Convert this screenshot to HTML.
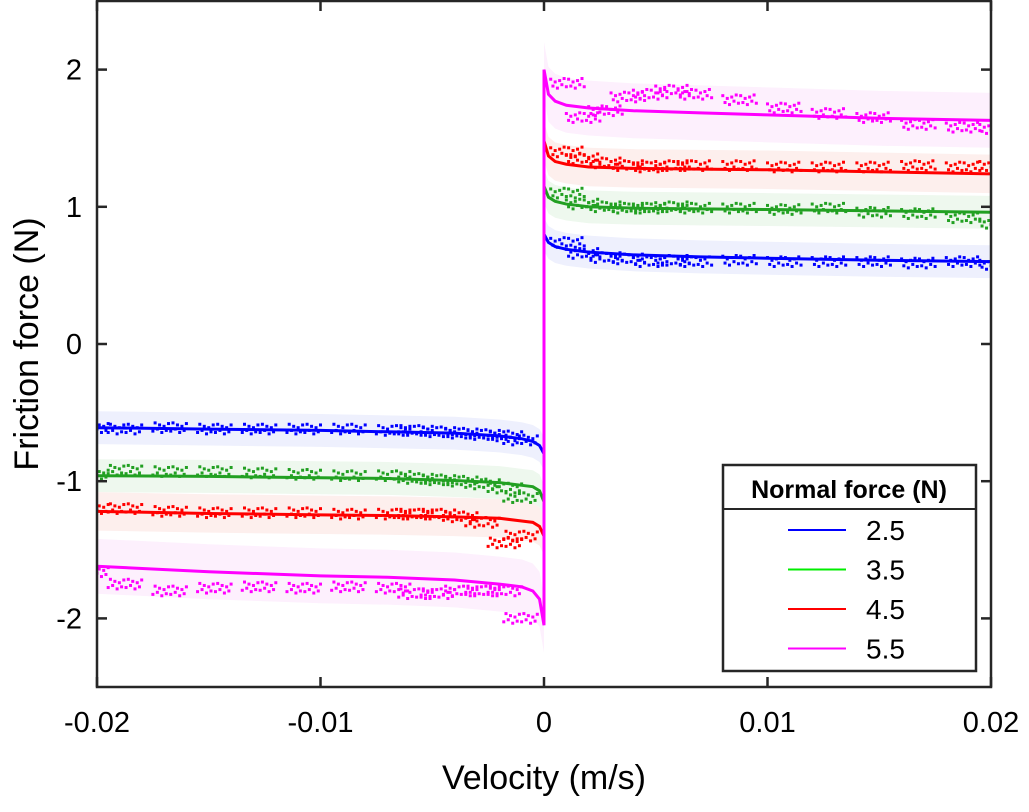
<!DOCTYPE html>
<html><head><meta charset="utf-8"><style>
body{margin:0;background:#fff;}
svg{display:block;font-family:"Liberation Sans",Arial,sans-serif;}
</style></head><body>
<svg id="chart" width="1029" height="812"></svg>
<script>
const xTicks=[-0.02,-0.01,0,0.01,0.02];
const xTickLabels=["-0.02","-0.01","0","0.01","0.02"];
const yTicks=[-2,-1,0,1,2];
const yTickLabels=["-2","-1","0","1","2"];
const seriesNames=["2.5","3.5","4.5","5.5"];
const curveV=[0,0.0002,0.0005,0.001,0.002,0.004,0.007,0.01,0.015,0.02];
const posBlue=[0.8,0.74,0.71,0.69,0.67,0.65,0.635,0.625,0.61,0.6];
const negBlue=[-0.8,-0.74,-0.71,-0.69,-0.67,-0.65,-0.64,-0.63,-0.62,-0.61];
const posGreen=[1.15,1.07,1.04,1.02,1.0,0.99,0.985,0.98,0.97,0.96];
const negGreen=[-1.15,-1.07,-1.04,-1.03,-1.01,-0.995,-0.98,-0.975,-0.965,-0.96];
const posRed=[1.48,1.37,1.33,1.31,1.29,1.28,1.275,1.27,1.255,1.24];
const negRed=[-1.4,-1.33,-1.3,-1.29,-1.27,-1.26,-1.25,-1.245,-1.235,-1.22];
const posMag=[2.0,1.82,1.77,1.74,1.72,1.7,1.685,1.67,1.645,1.63];
const negMag=[-2.05,-1.86,-1.8,-1.77,-1.75,-1.72,-1.7,-1.69,-1.66,-1.62];
const dotV=[0.0003,0.001,0.002,0.003,0.004,0.005,0.006,0.008,0.01,0.012,0.014,0.016,0.018,0.0195];
const dotBlue=[0.74,0.66,0.63,0.62,0.6,0.61,0.6,0.61,0.6,0.6,0.6,0.59,0.6,0.58];
const dotBlueN=[-0.7,-0.67,-0.66,-0.65,-0.64,-0.63,-0.63,-0.62,-0.62,-0.62,-0.62,-0.61,-0.62,-0.61];
const dotGreen=[1.1,1.02,1.0,0.99,0.99,1.0,0.99,0.99,0.98,0.99,0.96,0.95,0.92,0.88];
const dotGreenN=[-1.12,-1.05,-1.02,-1.0,-0.99,-0.98,-0.96,-0.96,-0.95,-0.94,-0.93,-0.93,-0.92,-0.95];
const dotRed=[1.4,1.35,1.32,1.3,1.29,1.3,1.3,1.3,1.29,1.29,1.29,1.3,1.29,1.3];
const dotRedN=[-1.4,-1.45,-1.3,-1.26,-1.24,-1.24,-1.24,-1.24,-1.23,-1.23,-1.23,-1.22,-1.2,-1.2];
const dotMag=[1.9,1.65,1.7,1.8,1.82,1.85,1.82,1.78,1.72,1.68,1.65,1.6,1.58,1.57];
const dotMagN=[-2.0,-1.8,-1.8,-1.8,-1.82,-1.82,-1.78,-1.77,-1.78,-1.77,-1.78,-1.8,-1.75,-1.66];
const series=[
 {pos:posBlue,neg:negBlue,dp:dotBlue,dn:dotBlueN,c:"#0000ff",lc:"#0000ff",band:"#eef0fd"},
 {pos:posGreen,neg:negGreen,dp:dotGreen,dn:dotGreenN,c:"#22a022",lc:"#00ee00",band:"#eef8ee"},
 {pos:posRed,neg:negRed,dp:dotRed,dn:dotRedN,c:"#ff0000",lc:"#ff0000",band:"#fdefed"},
 {pos:posMag,neg:negMag,dp:dotMag,dn:dotMagN,c:"#ff00ff",lc:"#ff00ff",band:"#fdf0fd"}];
const bandW=[0.12,0.12,0.14,0.2];
const L=97,R=991,T=1,B=687;
const sx=v=>L+(v+0.02)/0.04*(R-L);
const sy=f=>B-(f+2.5)/5*(B-T);
const NS="http://www.w3.org/2000/svg";
const svg=document.getElementById('chart');
function mk(tag,attrs,parent){const e=document.createElementNS(NS,tag);for(const k in attrs)e.setAttribute(k,attrs[k]);(parent||svg).appendChild(e);return e;}
const clip=mk('clipPath',{id:'pc'});mk('rect',{x:L,y:T,width:R-L,height:B-T},clip);
const g=mk('g',{'clip-path':'url(#pc)'});


series.forEach((s,i)=>{
  const w=bandW[i];
  let up=[],dn=[];
  curveV.forEach((v,j)=>{up.push([sx(v),sy(s.pos[j]+w)]);dn.push([sx(v),sy(s.pos[j]-w)]);});
  let p=mk('path',{d:'M'+up.map(q=>q.join(',')).join('L')+'L'+dn.reverse().map(q=>q.join(',')).join('L')+'Z',fill:s.band},g);
  
  
  up=[];dn=[];
  curveV.forEach((v,j)=>{up.push([sx(-v),sy(s.neg[j]+w)]);dn.push([sx(-v),sy(s.neg[j]-w)]);});
  p=mk('path',{d:'M'+up.map(q=>q.join(',')).join('L')+'L'+dn.reverse().map(q=>q.join(',')).join('L')+'Z',fill:s.band},g);
  
  
});
const jit=[0.03,-0.02,0.01,-0.035,0.02,-0.01,0.035,-0.025];
series.forEach((s,i)=>{
  dotV.forEach((v,j)=>{
    for(let k=0;k<16;k++){
      const vv=v+k*0.0001;
      const o=jit[k%8];
      let c=mk('rect',{x:sx(vv)-1.5,y:sy(s.dp[j]+o)-1.5,width:3,height:3,fill:s.c},g);
      
      
      c=mk('rect',{x:sx(-vv)-1.5,y:sy(s.dn[j]+o)-1.5,width:3,height:3,fill:s.c},g);
      
      
    }
  });
  let d='M'+curveV.slice().reverse().map((v,j)=>sx(-v)+','+sy(s.neg[curveV.length-1-j])).join('L');
  d+='L'+curveV.map((v,j)=>sx(v)+','+sy(s.pos[j])).join('L');
  const ln=mk('path',{d:d,fill:'none',stroke:s.c,'stroke-width':3},g);
  
  
});
const box=mk('rect',{x:L,y:T,width:R-L,height:B-T,fill:'none',stroke:'#262626','stroke-width':2.5});


xTicks.forEach((v,i)=>{
  mk('line',{x1:sx(v),x2:sx(v),y1:B,y2:B-10,stroke:'#262626','stroke-width':2.5});
  mk('line',{x1:sx(v),x2:sx(v),y1:T,y2:T+10,stroke:'#262626','stroke-width':2.5});
  const t=mk('text',{x:sx(v),y:732,'font-size':29,'text-anchor':'middle',fill:'#000'});
  t.textContent=xTickLabels[i];
  
  
});
yTicks.forEach((v,i)=>{
  mk('line',{x1:L,x2:L+10,y1:sy(v),y2:sy(v),stroke:'#262626','stroke-width':2.5});
  mk('line',{x1:R,x2:R-10,y1:sy(v),y2:sy(v),stroke:'#262626','stroke-width':2.5});
  const t=mk('text',{x:82,y:sy(v)+10,'font-size':29,'text-anchor':'end',fill:'#000'});
  t.textContent=yTickLabels[i];
  
  
});
let xt=mk('text',{x:544,y:789,'font-size':34,'text-anchor':'middle',fill:'#000'});
xt.textContent='Velocity (m/s)';


let yt=mk('text',{x:0,y:0,'font-size':34,'text-anchor':'middle',fill:'#000',transform:'translate(38,344) rotate(-90)'});
yt.textContent='Friction force (N)';


const lg=mk('g',{});


mk('rect',{x:723,y:465,width:253,height:206,fill:'#fff',stroke:'#262626','stroke-width':2.5},lg);
mk('line',{x1:723,x2:976,y1:509,y2:509,stroke:'#262626','stroke-width':2},lg);
let lt=mk('text',{x:849,y:498,'font-size':25,'font-weight':'bold','text-anchor':'middle',fill:'#000'},lg);
lt.textContent='Normal force (N)';


series.forEach((s,i)=>{
  const y=530+i*39.5;
  const e=mk('g',{},lg);
  
  
  mk('line',{x1:788,x2:846,y1:y,y2:y,stroke:s.lc,'stroke-width':2},e);
  const t=mk('text',{x:866,y:y+10,'font-size':28,fill:'#000'},e);
  t.textContent=seriesNames[i];
});
</script>
</body></html>
